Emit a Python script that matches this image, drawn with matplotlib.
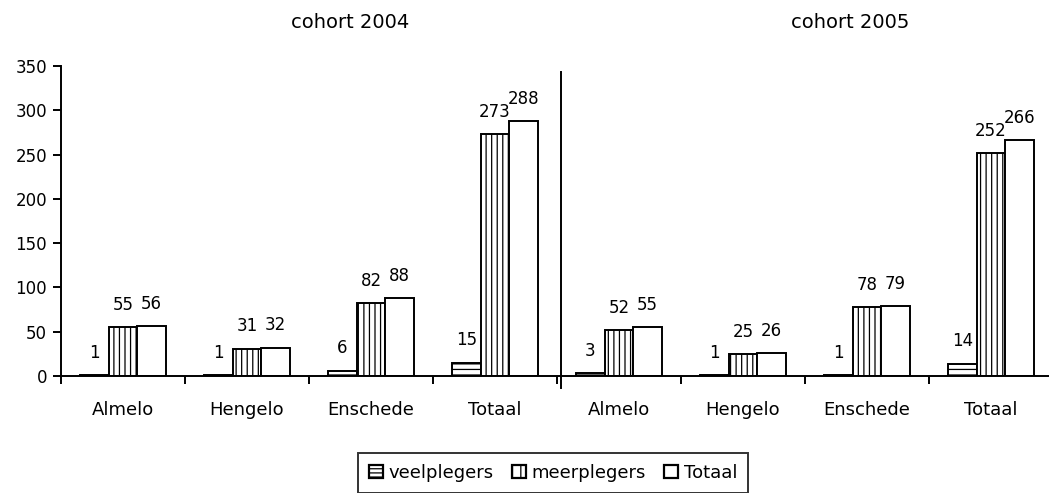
import numpy as np
import matplotlib
matplotlib.use('Agg')
import matplotlib.pyplot as plt
from matplotlib.patches import Patch

# data
cities = ["Almelo", "Hengelo", "Enschede", "Totaal"]
cohorts = ["cohort 2004", "cohort 2005"]
veelplegers = [1, 1, 6, 15, 3, 1, 1, 14]
meerplegers = [55, 31, 82, 273, 52, 25, 78, 252]
totaal = [56, 32, 88, 288, 55, 26, 79, 266]
series_names = ["veelplegers", "meerplegers", "Totaal"]

plt.rcParams['font.family'] = ['DejaVu Sans']
plt.rcParams['hatch.linewidth'] = 0.9

W, H = 1049, 493
fig = plt.figure(figsize=(W / 100, H / 100), dpi=100)
ax = fig.add_axes([61 / W, 1 - 376 / H, (1053 - 61) / W, (376 - 66) / H])

x = np.arange(len(cities) * len(cohorts))
bw = 0.23
hatches = ['---', '|||', '']
series = [veelplegers, meerplegers, totaal]
for k, (vals, hatch) in enumerate(zip(series, hatches)):
    pos = x + (k - 1) * bw
    ax.bar(pos, vals, width=bw, color='white', edgecolor='black',
           linewidth=1.4, hatch=hatch)
    for px, v in zip(pos, vals):
        ax.annotate(str(v), (px, v), xytext=(0, 16), textcoords='offset points',
                    ha='center', va='center', fontsize=12)

ax.set_xlim(-0.5, len(x) - 0.5)
ax.set_ylim(0, 350)
ax.set_yticks(range(0, 351, 50))
ax.set_xticks(x)
ax.set_xticklabels(cities * len(cohorts))
ax.set_xticks(np.arange(-0.5, len(x), 1.0), minor=True)
ax.tick_params(axis='x', which='major', length=0, pad=18, labelsize=13)
ax.tick_params(axis='x', which='minor', length=6, width=1.4, direction='out')
ax.tick_params(axis='y', length=6, width=1.4, direction='out', labelsize=12, pad=4)
for s in ['top', 'right']:
    ax.spines[s].set_visible(False)
for s in ['left', 'bottom']:
    ax.spines[s].set_linewidth(1.4)

# divider between the two cohorts
ax.plot([3.53, 3.53], [-13.5, 343], color='black', lw=1.4, clip_on=False)

fig.text(350 / W, 1 - 22 / H, cohorts[0], ha='center', va='center', fontsize=14)
fig.text(850 / W, 1 - 22 / H, cohorts[1], ha='center', va='center', fontsize=14)

handles = [Patch(facecolor='white', edgecolor='black', hatch=h, linewidth=1.6)
           for h in ['----', '||', '']]
leg = fig.legend(handles, series_names, loc='upper center',
                 bbox_to_anchor=(553 / W, 1 - 453 / H), ncol=3, frameon=True,
                 fontsize=13, handlelength=0.8, handleheight=0.8,
                 handletextpad=0.3, columnspacing=1.0, borderpad=0.6,
                 borderaxespad=0, fancybox=False)
leg.get_frame().set_edgecolor('black')
leg.get_frame().set_linewidth(1.4)

fig.savefig('out.png', dpi=100)
